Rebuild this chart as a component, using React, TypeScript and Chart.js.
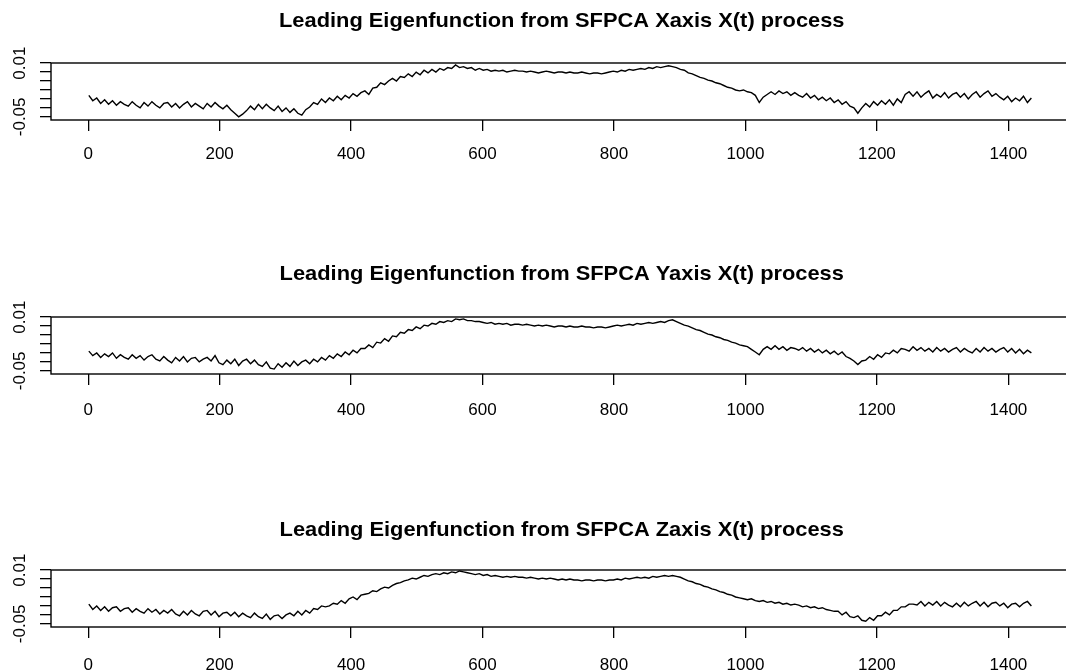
import React, { useEffect, useRef } from "react";
import { Chart, registerables } from "chart.js";

Chart.register(...registerables);

// sampling interval of the eigenfunction (minutes of the day)
const STEP = 6;

const xAxisEigen = [
  -0.026, -0.032, -0.029, -0.035, -0.031, -0.036, -0.032, -0.037, -0.033, -0.036,
  -0.038, -0.033, -0.037, -0.040, -0.034, -0.038, -0.033, -0.037, -0.040, -0.035,
  -0.034, -0.039, -0.035, -0.040, -0.036, -0.033, -0.039, -0.035, -0.038, -0.041,
  -0.035, -0.039, -0.034, -0.038, -0.041, -0.037, -0.042, -0.046, -0.050, -0.047,
  -0.043, -0.038, -0.042, -0.036, -0.041, -0.036, -0.040, -0.043, -0.038, -0.044,
  -0.040, -0.045, -0.041, -0.046, -0.048, -0.042, -0.039, -0.034, -0.036, -0.030,
  -0.034, -0.029, -0.032, -0.027, -0.031, -0.026, -0.029, -0.024, -0.027, -0.023,
  -0.021, -0.025, -0.018, -0.017, -0.012, -0.014, -0.010, -0.007, -0.010, -0.005,
  -0.006, -0.002, -0.005, 0.000, -0.003, 0.002, -0.001, 0.003, 0.000, 0.004,
  0.002, 0.005, 0.004, 0.008, 0.005, 0.006, 0.004, 0.005, 0.002, 0.004,
  0.002, 0.003, 0.001, 0.002, 0.001, 0.002, 0.000, 0.001, 0.002, 0.001,
  0.001, 0.000, 0.001, 0.000, -0.001, 0.000, 0.001, 0.000, -0.001, 0.000,
  0.000, -0.001, 0.000, -0.001, -0.001, 0.000, -0.001, -0.002, -0.001, -0.001,
  -0.002, -0.001, 0.000, 0.001, 0.000, 0.002, 0.001, 0.003, 0.002, 0.003,
  0.004, 0.003, 0.005, 0.004, 0.006, 0.005, 0.006, 0.007, 0.006, 0.005,
  0.003, 0.002, -0.001, -0.002, -0.004, -0.006, -0.007, -0.009, -0.010, -0.012,
  -0.013, -0.015, -0.017, -0.018, -0.020, -0.021, -0.020, -0.022, -0.023, -0.026,
  -0.034, -0.028, -0.025, -0.022, -0.025, -0.021, -0.024, -0.022, -0.026, -0.023,
  -0.026, -0.028, -0.024, -0.029, -0.026, -0.031, -0.028, -0.032, -0.029, -0.034,
  -0.031, -0.036, -0.033, -0.038, -0.040, -0.046, -0.040, -0.035, -0.039, -0.033,
  -0.037, -0.032, -0.036, -0.031, -0.037, -0.030, -0.034, -0.025, -0.022, -0.027,
  -0.022, -0.028, -0.024, -0.021, -0.029, -0.025, -0.028, -0.023, -0.029, -0.025,
  -0.023, -0.028, -0.024, -0.030, -0.025, -0.022, -0.028, -0.024, -0.021, -0.027,
  -0.024, -0.028, -0.031, -0.027, -0.033, -0.029, -0.032, -0.027, -0.034, -0.029,
];

const yAxisEigen = [
  -0.028, -0.033, -0.030, -0.035, -0.031, -0.034, -0.030, -0.036, -0.032, -0.035,
  -0.037, -0.032, -0.036, -0.033, -0.038, -0.034, -0.032, -0.037, -0.039, -0.034,
  -0.038, -0.041, -0.035, -0.039, -0.034, -0.040, -0.036, -0.035, -0.040, -0.037,
  -0.035, -0.039, -0.033, -0.041, -0.043, -0.038, -0.042, -0.037, -0.044, -0.039,
  -0.037, -0.042, -0.038, -0.043, -0.045, -0.040, -0.047, -0.048, -0.042, -0.046,
  -0.041, -0.045, -0.039, -0.044, -0.040, -0.038, -0.042, -0.037, -0.040, -0.035,
  -0.038, -0.033, -0.036, -0.031, -0.034, -0.029, -0.032, -0.027, -0.030, -0.025,
  -0.025, -0.021, -0.024, -0.018, -0.019, -0.014, -0.017, -0.011, -0.012, -0.007,
  -0.008, -0.004, -0.005, -0.001, -0.003, 0.001, 0.000, 0.003, 0.002, 0.005,
  0.004, 0.006, 0.005, 0.008, 0.007, 0.008, 0.006, 0.006, 0.005, 0.005,
  0.004, 0.003, 0.004, 0.002, 0.003, 0.002, 0.003, 0.001, 0.002, 0.002,
  0.001, 0.002, 0.001, 0.000, 0.001, 0.000, 0.001, 0.000, -0.001, 0.000,
  0.000, -0.001, 0.000, -0.001, -0.001, 0.000, -0.001, -0.001, -0.002, -0.001,
  -0.001, -0.002, -0.001, 0.000, 0.001, 0.000, 0.001, 0.002, 0.001, 0.003,
  0.002, 0.003, 0.004, 0.003, 0.004, 0.005, 0.004, 0.006, 0.007, 0.005,
  0.003, 0.001, 0.000, -0.002, -0.004, -0.005, -0.007, -0.009, -0.010, -0.012,
  -0.013, -0.015, -0.016, -0.018, -0.019, -0.021, -0.022, -0.023, -0.026, -0.029,
  -0.032, -0.026, -0.023, -0.026, -0.022, -0.026, -0.023, -0.027, -0.024, -0.025,
  -0.027, -0.024, -0.028, -0.025, -0.029, -0.026, -0.030, -0.027, -0.031, -0.028,
  -0.032, -0.029, -0.034, -0.036, -0.039, -0.043, -0.039, -0.038, -0.034, -0.037,
  -0.032, -0.035, -0.030, -0.031, -0.027, -0.030, -0.025, -0.026, -0.028, -0.023,
  -0.027, -0.024, -0.028, -0.025, -0.029, -0.024, -0.028, -0.025, -0.029, -0.026,
  -0.024, -0.029, -0.025, -0.028, -0.030, -0.025, -0.029, -0.024, -0.028, -0.025,
  -0.029, -0.026, -0.024, -0.029, -0.025, -0.030, -0.026, -0.031, -0.027, -0.030,
];

const zAxisEigen = [
  -0.028, -0.034, -0.030, -0.035, -0.031, -0.036, -0.032, -0.031, -0.036, -0.033,
  -0.032, -0.037, -0.033, -0.036, -0.038, -0.033, -0.037, -0.034, -0.039, -0.035,
  -0.038, -0.034, -0.039, -0.041, -0.036, -0.040, -0.035, -0.039, -0.041, -0.036,
  -0.035, -0.040, -0.036, -0.042, -0.038, -0.037, -0.041, -0.037, -0.042, -0.038,
  -0.041, -0.043, -0.038, -0.042, -0.044, -0.039, -0.045, -0.041, -0.040, -0.044,
  -0.040, -0.038, -0.041, -0.036, -0.040, -0.035, -0.038, -0.033, -0.034, -0.030,
  -0.031, -0.030, -0.027, -0.028, -0.024, -0.027, -0.022, -0.020, -0.023, -0.018,
  -0.017, -0.016, -0.013, -0.014, -0.011, -0.009, -0.010, -0.007, -0.005, -0.004,
  -0.002, -0.001, 0.001, 0.000, 0.002, 0.004, 0.003, 0.005, 0.006, 0.005,
  0.007, 0.006, 0.008, 0.007, 0.009, 0.008, 0.007, 0.006, 0.005, 0.006,
  0.004, 0.005, 0.003, 0.004, 0.003, 0.002, 0.003, 0.002, 0.003, 0.002,
  0.002, 0.001, 0.002, 0.001, 0.000, 0.001, 0.000, 0.001, 0.000, -0.001,
  0.000, -0.001, 0.000, -0.001, -0.001, -0.002, -0.001, -0.001, -0.002, -0.001,
  -0.001, -0.002, -0.001, -0.001, 0.000, -0.001, 0.001, 0.000, 0.001, 0.002,
  0.001, 0.002, 0.001, 0.003, 0.002, 0.003, 0.004, 0.003, 0.004, 0.003,
  0.002, 0.000, -0.002, -0.003, -0.005, -0.006, -0.008, -0.009, -0.011, -0.012,
  -0.014, -0.015, -0.017, -0.018, -0.020, -0.021, -0.022, -0.023, -0.022, -0.024,
  -0.025, -0.024, -0.026, -0.025, -0.027, -0.026, -0.028, -0.027, -0.029, -0.028,
  -0.029, -0.031, -0.030, -0.032, -0.031, -0.033, -0.032, -0.034, -0.035, -0.036,
  -0.036, -0.040, -0.037, -0.042, -0.043, -0.041, -0.046, -0.047, -0.043, -0.046,
  -0.041, -0.041, -0.037, -0.040, -0.035, -0.035, -0.031, -0.031, -0.028, -0.028,
  -0.029, -0.025, -0.030, -0.026, -0.029, -0.025, -0.030, -0.026, -0.029, -0.031,
  -0.027, -0.031, -0.026, -0.030, -0.027, -0.025, -0.030, -0.026, -0.031, -0.027,
  -0.026, -0.030, -0.027, -0.032, -0.028, -0.027, -0.031, -0.027, -0.025, -0.030,
];

const panelTitles = [
  "Leading Eigenfunction from SFPCA Xaxis X(t) process",
  "Leading Eigenfunction from SFPCA Yaxis X(t) process",
  "Leading Eigenfunction from SFPCA Zaxis X(t) process",
];
const panelSeries = [xAxisEigen, yAxisEigen, zAxisEigen];

const xTickValues = [0, 200, 400, 600, 800, 1000, 1200, 1400];
const yTickValues = [-0.05, -0.04, -0.03, -0.02, -0.01, 0, 0.01];
const yTickLabels = ["-0.05", "", "", "", "", "", "0.01"];

const X_MIN = -56.56;
const X_MAX = 1497.56;
const Y_MIN = -0.0535;
const Y_MAX = 0.0101;

const FONT = "'Liberation Sans', Arial, Helvetica, sans-serif";
const TITLE_SPACE = 62;
const PLOT_H = 57;
const XAXIS_H = 50;
const CANVAS_W = 1100;
const CANVAS_H = TITLE_SPACE + PLOT_H + XAXIS_H;
const PANEL_TOPS = [1, 255, 508];
const TICK_PAD = [13, 15, 17];
const TITLE_GAP = [42, 43, 40];
const TITLE_STRETCH = 1.04;

const decorPlugin = {
  id: "decor",
  afterDraw(chart: any, _args: any, opts: any) {
    const { ctx, chartArea } = chart;
    const { left, right, top, bottom } = chartArea;
    ctx.save();
    // box
    ctx.strokeStyle = "#000";
    ctx.lineWidth = 1.4;
    ctx.strokeRect(left, top, right - left, bottom - top);
    // title
    ctx.fillStyle = "#000";
    ctx.font = `bold 21px ${FONT}`;
    ctx.textAlign = "center";
    ctx.textBaseline = "middle";
    ctx.save();
    ctx.translate((left + right) / 2, top - opts.gap);
    ctx.scale(TITLE_STRETCH, 1);
    ctx.fillText(opts.title, 0, 0);
    ctx.restore();
    // rotated y labels
    const ys = chart.scales.y;
    ctx.font = `17px ${FONT}`;
    yTickValues.forEach((v, i) => {
      const lab = yTickLabels[i];
      if (!lab) return;
      const py = ys.getPixelForValue(v);
      ctx.save();
      ctx.translate(20.5, py);
      ctx.rotate(-Math.PI / 2);
      ctx.textAlign = "center";
      ctx.textBaseline = "middle";
      ctx.fillText(lab, 0, 0);
      ctx.restore();
    });
    ctx.restore();
  },
};

function Panel({ index }: { index: number }) {
  const ref = useRef<HTMLCanvasElement>(null);
  useEffect(() => {
    const values = panelSeries[index];
    const points = values.map((v, i) => ({ x: 1 + i * STEP, y: v }));
    const tickGrid = {
      display: true,
      drawOnChartArea: false,
      drawTicks: true,
      tickLength: 11,
      color: "#000",
      lineWidth: 1.3,
    };
    const chart = new Chart(ref.current as HTMLCanvasElement, {
      type: "line",
      data: {
        datasets: [
          {
            data: points,
            borderColor: "#000",
            borderWidth: 1.4,
            pointRadius: 0,
            tension: 0,
            fill: false,
          },
        ],
      },
      options: {
        responsive: false,
        animation: false,
        events: [],
        layout: { padding: { top: TITLE_SPACE, right: CANVAS_W - 1072.5, left: 0, bottom: 0 } },
        plugins: {
          legend: { display: false },
          tooltip: { enabled: false },
          title: { display: false },
          decor: { title: panelTitles[index], gap: TITLE_GAP[index] },
        } as any,
        scales: {
          x: {
            type: "linear",
            min: X_MIN,
            max: X_MAX,
            afterBuildTicks: (s: any) => {
              s.ticks = xTickValues.map((v) => ({ value: v }));
            },
            afterFit: (s: any) => {
              s.height = XAXIS_H;
            },
            grid: tickGrid,
            border: { display: false },
            ticks: {
              autoSkip: false,
              maxRotation: 0,
              minRotation: 0,
              padding: TICK_PAD[index],
              color: "#000",
              font: { family: FONT, size: 17 },
              callback: (v: any) => String(v),
            },
          },
          y: {
            type: "linear",
            min: Y_MIN,
            max: Y_MAX,
            afterBuildTicks: (s: any) => {
              s.ticks = yTickValues.map((v) => ({ value: v }));
            },
            afterFit: (s: any) => {
              s.width = 51;
            },
            grid: tickGrid,
            border: { display: false },
            ticks: { display: false },
          },
        },
      } as any,
      plugins: [decorPlugin],
    });
    return () => chart.destroy();
  }, [index]);
  return (
    <canvas
      ref={ref}
      width={CANVAS_W}
      height={CANVAS_H}
      style={{ position: "absolute", left: 0, top: PANEL_TOPS[index], width: CANVAS_W, height: CANVAS_H }}
    />
  );
}

export default function App() {
  return (
    <div
      style={{
        position: "fixed",
        left: 0,
        top: 0,
        width: 1066,
        height: 670,
        overflow: "hidden",
        background: "#fff",
      }}
    >
      {panelTitles.map((_, i) => (
        <Panel key={i} index={i} />
      ))}
    </div>
  );
}
